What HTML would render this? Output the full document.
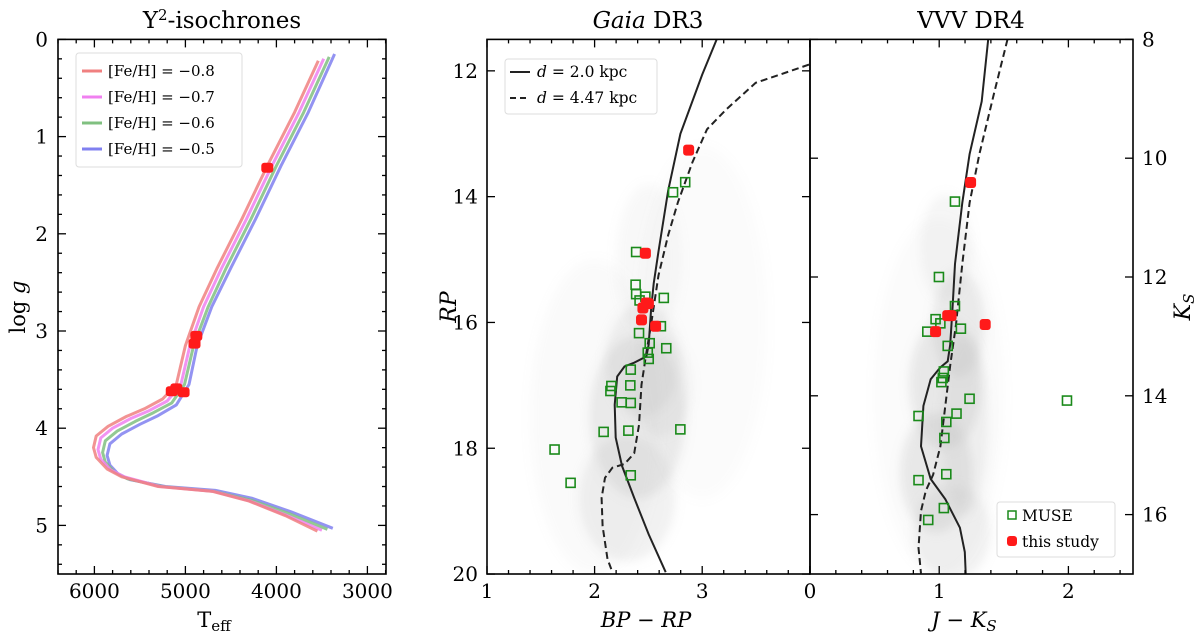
<!DOCTYPE html>
<html><head><meta charset="utf-8"><style>
html,body{margin:0;padding:0;background:#fff}
svg{display:block;font-family:"DejaVu Serif","Liberation Serif",serif}
</style></head><body>
<svg id="fig" width="1200" height="636" viewBox="0 0 1200 636" xmlns="http://www.w3.org/2000/svg">
<defs><filter id="blur" x="-50%" y="-50%" width="200%" height="200%"><feGaussianBlur stdDeviation="5"/></filter>
<clipPath id="c1"><rect x="58" y="39.4" width="328" height="534.6"/></clipPath>
<clipPath id="c2"><rect x="487" y="39.4" width="323" height="534.6"/></clipPath>
<clipPath id="c3"><rect x="810" y="39.4" width="323" height="534.6"/></clipPath></defs>
</svg>
<script>
// ---- Panel 1 data: Y2 isochrones (Teff, logg)
const isoLabels = ["[Fe/H] = \u22120.8","[Fe/H] = \u22120.7","[Fe/H] = \u22120.6","[Fe/H] = \u22120.5"];
const isoColors = ["#f08080","#f080f0","#80c080","#8080f0"];
const isoTeffM08 = [3540,3800,4100,4380,4650,4850,5000,5100,5250,5450,5650,5850,5980,6010,5980,5860,5700,5300,4700,4300,3900,3550];
const isoLoggM08 = [0.22,0.75,1.3,1.85,2.35,2.75,3.15,3.55,3.7,3.8,3.88,3.98,4.08,4.2,4.3,4.42,4.5,4.6,4.65,4.75,4.9,5.06];
const isoTeffM07 = [3480,3750,4050,4330,4600,4800,4950,5050,5200,5400,5600,5800,5930,5960,5930,5820,5670,5280,4690,4290,3880,3500];
const isoLoggM07 = [0.2,0.75,1.3,1.85,2.35,2.75,3.15,3.55,3.72,3.82,3.9,4.0,4.1,4.22,4.32,4.43,4.5,4.6,4.65,4.75,4.9,5.05];
const isoTeffM06 = [3420,3700,4000,4280,4550,4750,4910,5010,5150,5350,5550,5750,5880,5910,5880,5780,5640,5250,4680,4280,3860,3440];
const isoLoggM06 = [0.18,0.75,1.3,1.85,2.35,2.75,3.15,3.55,3.74,3.84,3.93,4.03,4.13,4.25,4.35,4.45,4.52,4.6,4.65,4.74,4.88,5.04];
const isoTeffM05 = [3360,3650,3950,4230,4500,4710,4870,4960,5100,5300,5500,5700,5830,5860,5830,5740,5610,5220,4670,4270,3840,3380];
const isoLoggM05 = [0.15,0.75,1.3,1.85,2.35,2.75,3.15,3.55,3.76,3.87,3.96,4.06,4.16,4.28,4.38,4.47,4.53,4.6,4.64,4.72,4.86,5.03];
const p1StarTeff = [4100,4880,4900,5150,5100,5020];
const p1StarLogg = [1.32,3.05,3.13,3.62,3.59,3.63];
// ---- Panel 2 data: Gaia (BP-RP, RP)
const g2BP = [3.135,3.0,2.797,2.684,2.594,2.549,2.526,2.503,2.481,2.368,2.278,2.21,2.187,2.196,2.255,2.368,2.503,2.661];
const g2RP = [11.5,12.06,13.0,13.9,14.87,15.38,15.77,16.35,16.54,16.64,16.70,16.86,17.31,17.83,18.28,18.79,19.37,19.97];
const g4BP = [3.993,3.722,3.497,3.226,3.045,2.91,2.774,2.684,2.594,2.526,2.481,2.436,2.413,2.368,2.278,2.165,2.097,2.065,2.074,2.12,2.165];
const g4RP = [11.9,12.06,12.19,12.61,12.93,13.45,14.09,14.61,15.25,16.02,16.48,16.99,17.63,18.08,18.25,18.31,18.47,18.79,19.24,19.76,19.97];
const museBP = [2.386,2.729,2.842,2.381,2.386,2.472,2.418,2.643,2.616,2.413,2.512,2.666,2.494,2.503,2.336,2.332,2.156,2.147,2.251,2.336,2.084,2.314,2.797,1.628,2.336,1.777];
const museRP = [14.88,13.93,13.77,15.40,15.55,15.59,15.65,15.61,16.06,16.17,16.33,16.41,16.48,16.58,16.75,17.00,17.01,17.09,17.27,17.28,17.74,17.72,17.70,18.02,18.43,18.55];
const studyBP = [2.874,2.472,2.449,2.48,2.567,2.50,2.436];
const studyRP = [13.26,14.90,15.77,15.69,16.06,15.70,15.96];
// field density regions panel2: center color, center mag, rx (color), ry (mag), opacity
const f2C = [2.4,2.45,2.3,2.6,2.5,2.0,3.0];
const f2M = [17.5,16.6,18.8,17.0,15.0,17.5,16.0];
const f2RX = [0.45,0.35,0.45,0.3,0.3,0.6,0.6];
const f2RY = [1.3,0.9,1.0,0.8,1.2,2.5,2.8];
const f2O = [0.25,0.2,0.2,0.15,0.1,0.07,0.05];
// ---- Panel 3 data: VVV (J-Ks, Ks)
const v2JK = [1.379,1.329,1.235,1.179,1.122,1.103,1.085,1.066,1.009,0.934,0.878,0.859,0.934,1.047,1.160,1.198,1.205];
const v2K = [8.0,9.045,9.93,10.75,11.78,12.53,13.14,13.42,13.52,13.72,14.17,14.85,15.40,15.74,16.22,16.63,16.99];
const v4JK = [1.529,1.424,1.311,1.235,1.179,1.130,1.085,1.047,1.009,0.953,0.896,0.859,0.840,0.859];
const v4K = [8.0,8.91,9.93,10.75,11.78,12.80,13.49,14.17,14.85,15.33,15.60,15.94,16.56,16.99];
const museJK = [1.122,0.998,1.122,0.972,1.009,0.908,1.168,1.066,1.036,1.028,1.017,1.235,1.989,0.840,1.134,1.055,1.040,1.055,0.840,1.036,0.915];
const museK = [10.73,12.00,12.49,12.71,12.78,12.92,12.87,13.16,13.59,13.70,13.77,14.05,14.08,14.34,14.30,14.44,14.71,15.32,15.42,15.89,16.09];
const studyJK = [1.243,1.066,1.092,0.972,1.356];
const studyK = [10.41,12.65,12.65,12.92,12.80];
const f3C = [1.15,1.05,0.98,1.1,1.05,1.2,1.0];
const f3M = [12.8,13.8,15.3,16.3,11.5,14.5,14.0];
const f3RX = [0.2,0.28,0.28,0.3,0.2,0.18,0.5];
const f3RY = [0.9,1.1,1.0,0.8,0.9,1.5,3.0];
const f3O = [0.25,0.28,0.28,0.2,0.12,0.18,0.06];

const NS="http://www.w3.org/2000/svg";
const svg=document.getElementById('fig');
function mk(tag,attrs,parent){const e=document.createElementNS(NS,tag);for(const k in attrs)e.setAttribute(k,attrs[k]);(parent||svg).appendChild(e);return e;}
const x1=t=>58+(6400-t)/1000*91, y1=g=>39.4+g*97.2;
const x2=c=>487+(c-1)*107.6, y2=m=>39.4+(m-11.5)*62.9;
const x3=c=>810+c*129.2, y3=k=>39.4+(k-8)*59.4;
function path(xs,ys,fx,fy){return xs.map((v,i)=>(i?'L':'M')+fx(v).toFixed(1)+','+fy(ys[i]).toFixed(1)).join(' ');}
function txt(s,x,y,size,anchor,extra){const t=mk('text',Object.assign({x:x,y:y,'font-size':size,'text-anchor':anchor||'middle',fill:'#000'},extra||{}));t.textContent=s;return t;}

const g2=mk('g',{'clip-path':'url(#c2)'});


f2C.forEach((c,i)=>{const e=mk('ellipse',{cx:x2(c),cy:y2(f2M[i]),rx:f2RX[i]*107.6,ry:f2RY[i]*62.9,fill:'#b8b8b8','fill-opacity':f2O[i],filter:'url(#blur)'},g2);

});
const g3=mk('g',{'clip-path':'url(#c3)'});


f3C.forEach((c,i)=>{const e=mk('ellipse',{cx:x3(c),cy:y3(f3M[i]),rx:f3RX[i]*129.2,ry:f3RY[i]*59.4,fill:'#b8b8b8','fill-opacity':f3O[i],filter:'url(#blur)'},g3);

});

const isoT=[isoTeffM08,isoTeffM07,isoTeffM06,isoTeffM05], isoG=[isoLoggM08,isoLoggM07,isoLoggM06,isoLoggM05];
const gp1=mk('g',{'clip-path':'url(#c1)'});
for(let i=3;i>=0;i--){const p=mk('path',{d:path(isoT[i],isoG[i],x1,y1),fill:'none',stroke:isoColors[i],'stroke-width':3,'stroke-opacity':0.85,'stroke-linejoin':'round'},gp1);

}
p1StarTeff.forEach((t,i)=>{const r=mk('rect',{x:x1(t)-6,y:y1(p1StarLogg[i])-5,width:12,height:10,rx:3,fill:'#ff1a1a'},gp1);

});

function lines(xs,ys,fx,fy,dash,clip,name){const p=mk('path',{d:path(xs,ys,fx,fy),fill:'none',stroke:'#222','stroke-width':2,'stroke-dasharray':dash?'7,4':'none','clip-path':clip});

}
lines(g2BP,g2RP,x2,y2,false,'url(#c2)','gaia-isochrone-2kpc');
lines(g4BP,g4RP,x2,y2,true,'url(#c2)','gaia-isochrone-4.47kpc');
lines(v2JK,v2K,x3,y3,false,'url(#c3)','vvv-isochrone-2kpc');
lines(v4JK,v4K,x3,y3,true,'url(#c3)','vvv-isochrone-4.47kpc');
function squares(xs,ys,fx,fy){xs.forEach((v,i)=>{const r=mk('rect',{x:fx(v)-4.5,y:fy(ys[i])-4.5,width:9,height:9,fill:'none',stroke:'#1a8a1a','stroke-width':1.6});

});}
function reds(xs,ys,fx,fy){xs.forEach((v,i)=>{const r=mk('rect',{x:fx(v)-5.5,y:fy(ys[i])-5.5,width:11,height:11,rx:3,fill:'#ff1a1a'});

});}
squares(museBP,museRP,x2,y2); reds(studyBP,studyRP,x2,y2);
squares(museJK,museK,x3,y3); reds(studyJK,studyK,x3,y3);

function frame(x,y,w,h,name){const r=mk('rect',{x:x,y:y,width:w,height:h,fill:'none',stroke:'#000','stroke-width':1.6});

}
frame(58,39.4,328,534.6,'teff-logg-axes');frame(487,39.4,323,534.6,'gaia-axes');frame(810,39.4,323,534.6,'vvv-axes');
function tk(x1_,y1_,x2_,y2_){mk('line',{x1:x1_,y1:y1_,x2:x2_,y2:y2_,stroke:'#000','stroke-width':1.3});}
const T=39.4,B=574;
for(let t=6400;t>=2800;t-=200){const X=x1(t);const L=(t%1000===0)?8:4;tk(X,B,X,B-L);tk(X,T,X,T+L);if(t%1000===0)txt(String(t),X,598,20);}
for(let g=0;g<=55;g+=2){const Y=y1(g/10);const L=(g%10===0)?8:4;tk(58,Y,58+L,Y);tk(386,Y,386-L,Y);if(g%10===0)txt(String(g/10),48,Y+7,20,'end');}
for(let c=10;c<=40;c+=2){const X=x2(c/10);const L=(c%10===0)?8:4;tk(X,B,X,B-L);tk(X,T,X,T+L);if(c%10===0&&c<40)txt(String(c/10),X,598,20);}
[12,14,16,18,20].forEach(m=>{const Y=y2(m);tk(487,Y,495,Y);tk(810,Y,802,Y);txt(String(m),478,Y+7,20,'end');});
for(let c=0;c<=25;c+=2){const X=x3(c/10);const L=(c%10===0)?8:4;tk(X,B,X,B-L);tk(X,T,X,T+L);if(c%10===0)txt(String(c/10),X,598,20);}
[8,10,12,14,16].forEach(k=>{const Y=y3(k);tk(810,Y,818,Y);tk(1133,Y,1125,Y);txt(String(k),1142,Y+7,20,'start');});

let t=txt('Y',222,28,23);const sup=mk('tspan',{dy:-8,'font-size':15},t);sup.textContent='2';const rest=mk('tspan',{dy:8},t);rest.textContent='-isochrones';

t=txt('',648,28,23);let a=mk('tspan',{'font-style':'italic'},t);a.textContent='Gaia';let b=mk('tspan',{},t);b.textContent=' DR3';

t=txt('VVV DR4',971,28,23);
t=txt('T',214,627,21);a=mk('tspan',{'font-size':15,dy:4},t);a.textContent='eff';

t=txt('BP \u2212 RP',646,627,21,'middle',{'font-style':'italic'});
t=txt('J \u2212 K',964,627,21,'middle',{'font-style':'italic'});a=mk('tspan',{'font-size':15,dy:4},t);a.textContent='S';

t=txt('log ',0,0,21,'middle',{transform:'translate(25,307) rotate(-90)'});a=mk('tspan',{'font-style':'italic'},t);a.textContent='g';

t=txt('RP',0,0,22,'middle',{transform:'translate(456,307) rotate(-90)','font-style':'italic'});
t=txt('K',0,0,22,'middle',{transform:'translate(1190,307) rotate(-90)','font-style':'italic'});a=mk('tspan',{'font-size':15,dy:4},t);a.textContent='S';


function legBox(x,y,w,h,name){const r=mk('rect',{x:x,y:y,width:w,height:h,fill:'#fff','fill-opacity':0.85,stroke:'#ddd','stroke-width':1,rx:3});

}
legBox(76,53,166,114,'isochrone-legend');
const legY=[71,97,123,149];
isoLabels.forEach((s,i)=>{mk('line',{x1:82,y1:legY[i],x2:102,y2:legY[i],stroke:isoColors[i],'stroke-width':3});
const e=txt(s,108,legY[i]+5,15,'start');

});
legBox(505,59,152,55,'distance-legend');
mk('line',{x1:510,y1:72,x2:530,y2:72,stroke:'#222','stroke-width':2});
mk('line',{x1:510,y1:98,x2:530,y2:98,stroke:'#222','stroke-width':2,'stroke-dasharray':'6,4'});
t=txt('',537,77,15.5,'start');a=mk('tspan',{'font-style':'italic'},t);a.textContent='d';b=mk('tspan',{},t);b.textContent=' = 2.0 kpc';

t=txt('',537,103,15.5,'start');a=mk('tspan',{'font-style':'italic'},t);a.textContent='d';b=mk('tspan',{},t);b.textContent=' = 4.47 kpc';

legBox(997,502,118,55,'marker-legend');
mk('rect',{x:1008,y:511,width:8,height:8,fill:'none',stroke:'#1a8a1a','stroke-width':1.5});
mk('rect',{x:1007,y:536,width:10,height:10,rx:3,fill:'#ff1a1a'});
t=txt('MUSE',1022,521,15.5,'start');
t=txt('this study',1022,547,15.5,'start');
</script>
</body></html>
